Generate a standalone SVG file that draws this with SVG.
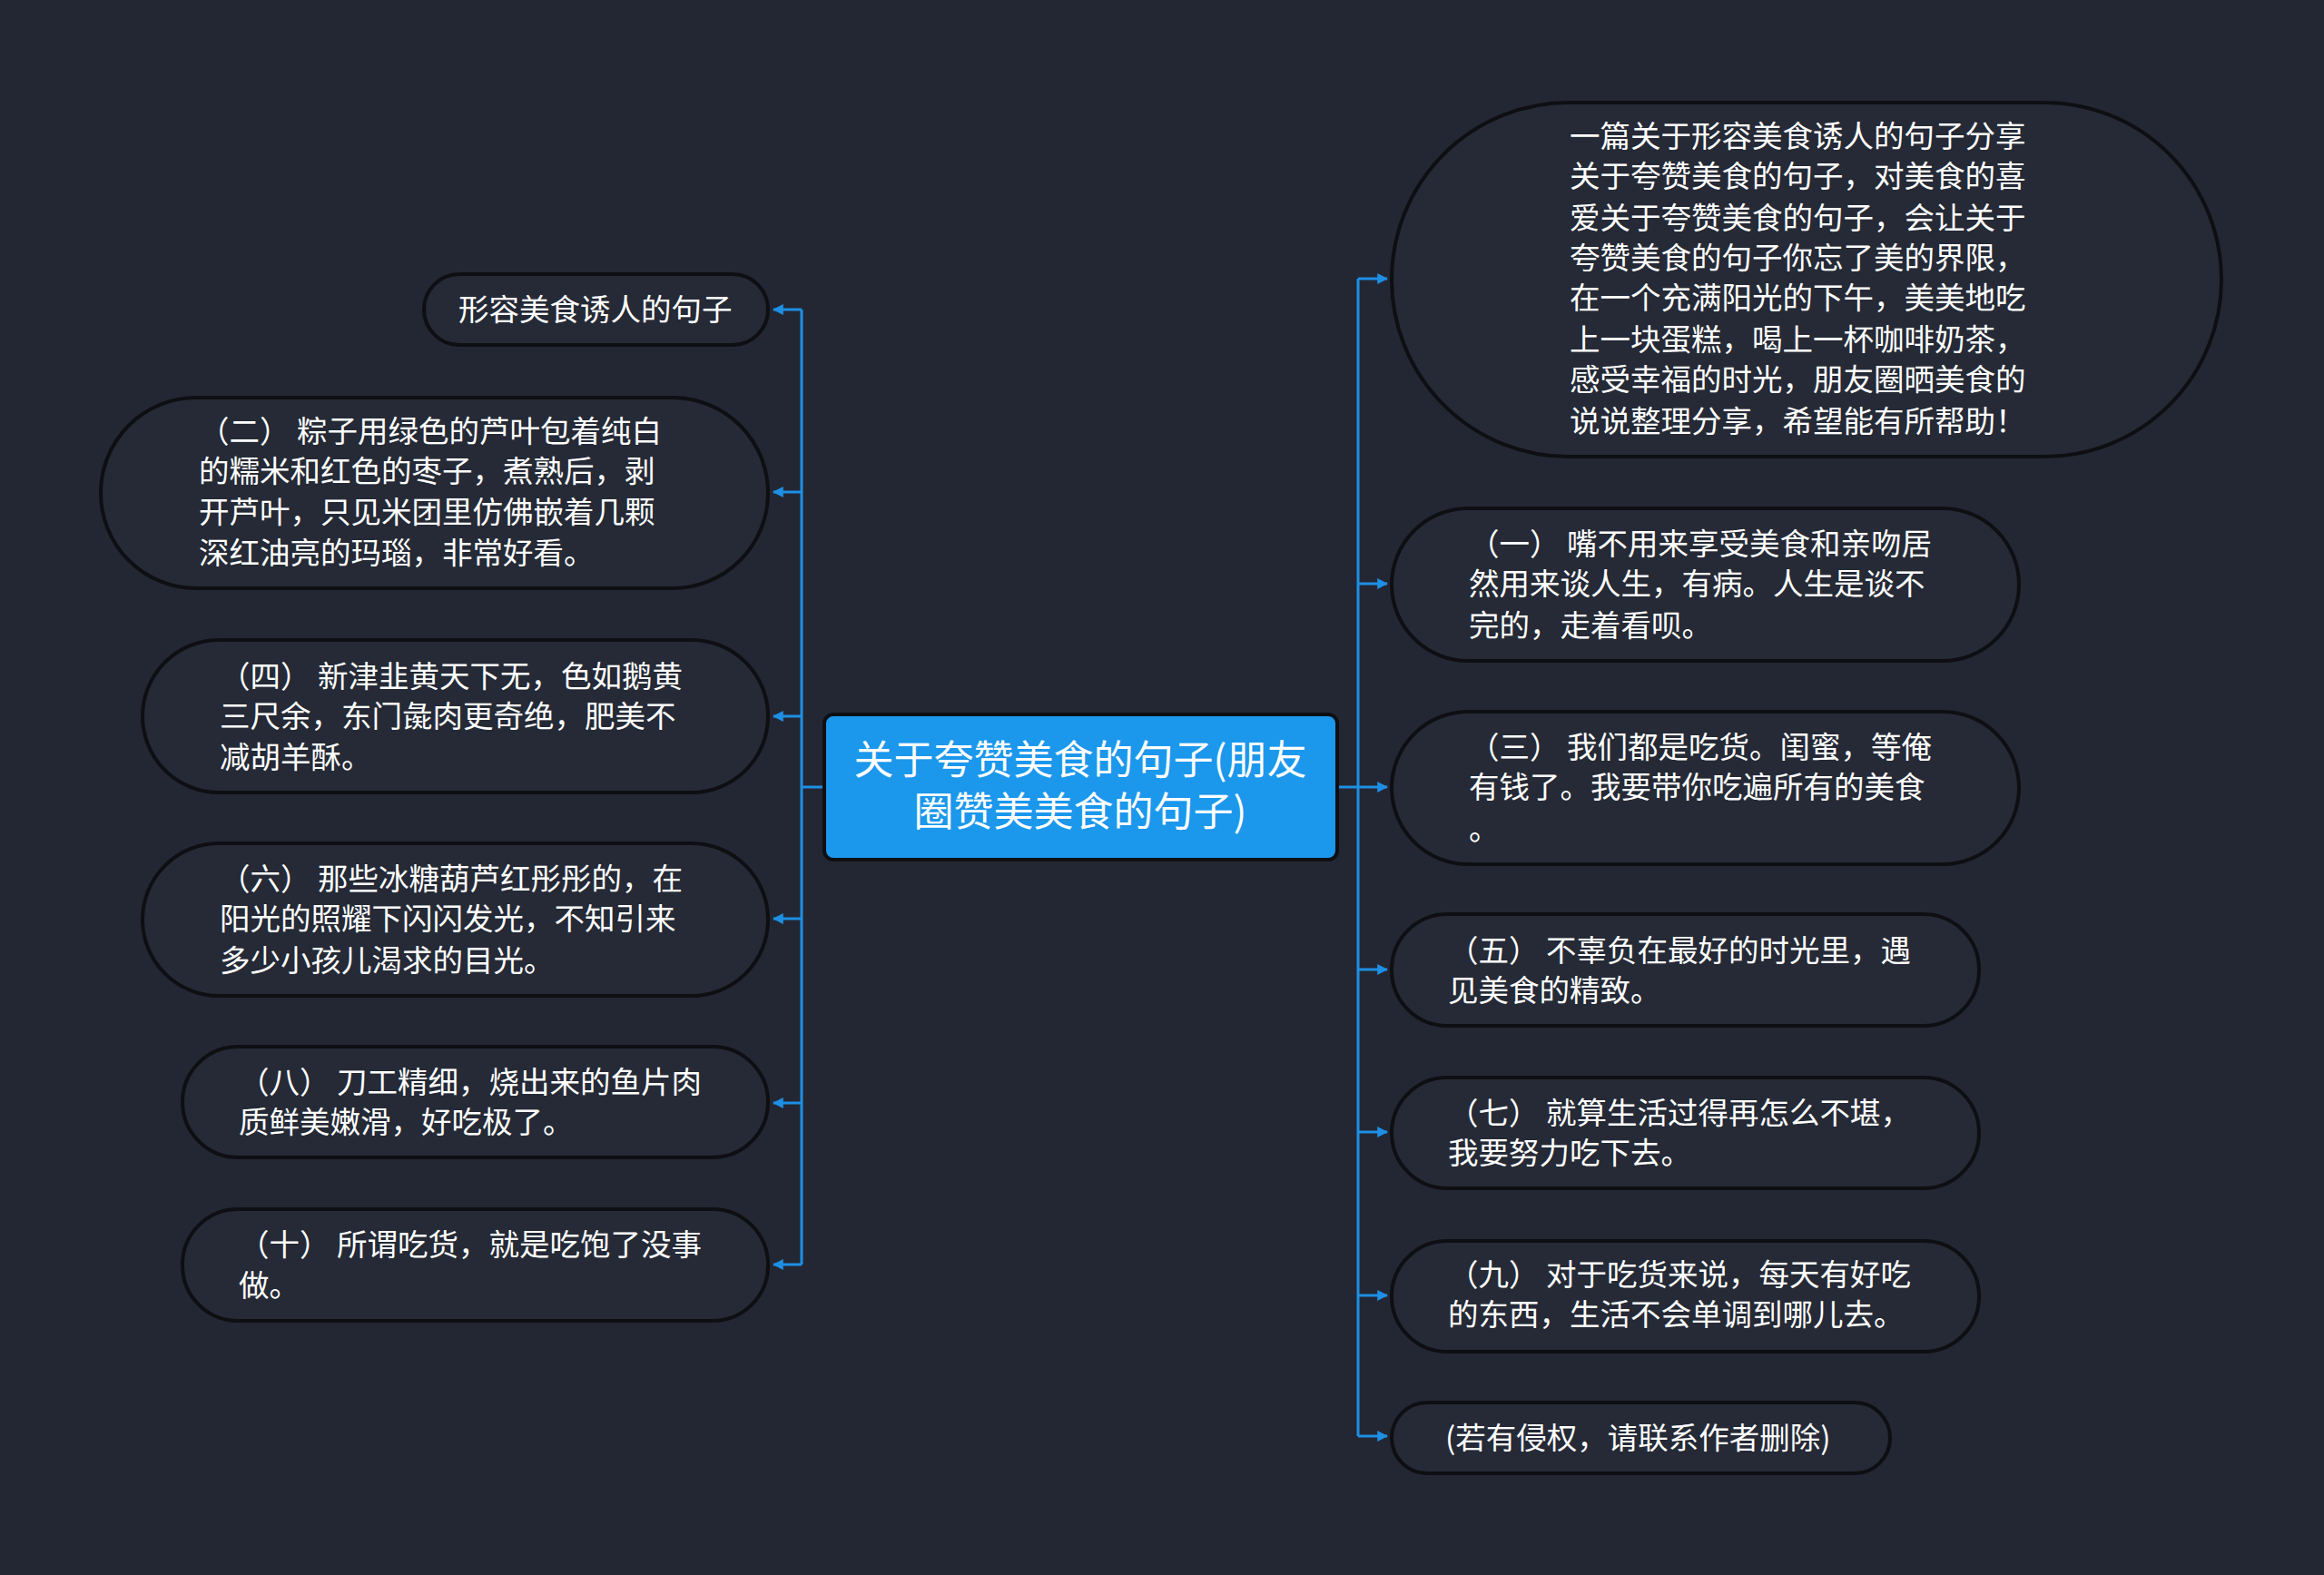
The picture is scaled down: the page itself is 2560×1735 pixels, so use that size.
<svg xmlns="http://www.w3.org/2000/svg" width="2560" height="1735" viewBox="0 0 2560 1735">
<defs>
<style>
.bg{fill:#232733}
.node{fill:#252a36;stroke:#0e0f13;stroke-width:4}
.root{fill:#1b97ec;stroke:#0e0f13;stroke-width:4}
.t{font-family:"Noto Sans CJK SC","Noto Sans",sans-serif;font-size:33.5px;fill:#ffffff}
.rt{font-family:"Noto Sans CJK SC","Noto Sans",sans-serif;font-size:44px;fill:#ffffff;text-anchor:middle}
.ln{fill:none;stroke:#1e8fe4;stroke-width:3}
</style>
<marker id="ah" viewBox="0 0 10 10" refX="9" refY="5" markerWidth="4" markerHeight="4" orient="auto" markerUnits="strokeWidth">
<path d="M0,0 L10,5 L0,10 z" fill="#1e8fe4"/>
</marker>
</defs>
<rect class="bg" x="0" y="0" width="2560" height="1735"/>

<g id="connectors">
<path class="ln" d="M908,867 H883"/>
<path class="ln" d="M883,341 V1393"/>
<path class="ln" d="M883,341 H852" marker-end="url(#ah)"/>
<path class="ln" d="M883,542 H852" marker-end="url(#ah)"/>
<path class="ln" d="M883,789 H852" marker-end="url(#ah)"/>
<path class="ln" d="M883,1012 H852" marker-end="url(#ah)"/>
<path class="ln" d="M883,1215 H852" marker-end="url(#ah)"/>
<path class="ln" d="M883,1393 H852" marker-end="url(#ah)"/>
<path class="ln" d="M1473,867 H1496"/>
<path class="ln" d="M1496,307 V1582"/>
<path class="ln" d="M1496,307 H1528" marker-end="url(#ah)"/>
<path class="ln" d="M1496,643 H1528" marker-end="url(#ah)"/>
<path class="ln" d="M1496,867 H1528" marker-end="url(#ah)"/>
<path class="ln" d="M1496,1068 H1528" marker-end="url(#ah)"/>
<path class="ln" d="M1496,1247 H1528" marker-end="url(#ah)"/>
<path class="ln" d="M1496,1427 H1528" marker-end="url(#ah)"/>
<path class="ln" d="M1496,1582 H1528" marker-end="url(#ah)"/>
</g>

<g id="root">
<rect class="root" x="908" y="787" width="565" height="160" rx="10"/>
<text class="rt"><tspan x="1190" y="853">关于夸赞美食的句子(朋友</tspan><tspan x="1190" y="910">圈赞美美食的句子)</tspan></text>
</g>

<g id="L1">
<rect class="node" x="467" y="302" width="379" height="78" rx="39"/>
<text class="t" x="505" y="353">形容美食诱人的句子</text>
</g>

<g id="L2">
<rect class="node" x="111" y="438" width="735" height="210" rx="105"/>
<text class="t" x="219" y="487">（二） 粽子用绿色的芦叶包着纯白</text>
<text class="t" x="219" y="531">的糯米和红色的枣子，煮熟后，剥</text>
<text class="t" x="219" y="576">开芦叶，只见米团里仿佛嵌着几颗</text>
<text class="t" x="219" y="621">深红油亮的玛瑙，非常好看。</text>
</g>

<g id="L3">
<rect class="node" x="157" y="705" width="689" height="168" rx="84"/>
<text class="t" x="242" y="757">（四） 新津韭黄天下无，色如鹅黄</text>
<text class="t" x="242" y="801">三尺余，东门彘肉更奇绝，肥美不</text>
<text class="t" x="242" y="846">减胡羊酥。</text>
</g>

<g id="L4">
<rect class="node" x="157" y="929" width="689" height="168" rx="84"/>
<text class="t" x="242" y="980">（六） 那些冰糖葫芦红彤彤的，在</text>
<text class="t" x="242" y="1024">阳光的照耀下闪闪发光，不知引来</text>
<text class="t" x="242" y="1070">多少小孩儿渴求的目光。</text>
</g>

<g id="L5">
<rect class="node" x="201" y="1153" width="645" height="122" rx="61"/>
<text class="t" x="263" y="1204">（八） 刀工精细，烧出来的鱼片肉</text>
<text class="t" x="263" y="1248">质鲜美嫩滑，好吃极了。</text>
</g>

<g id="L6">
<rect class="node" x="201" y="1332" width="645" height="123" rx="61"/>
<text class="t" x="263" y="1383">（十） 所谓吃货，就是吃饱了没事</text>
<text class="t" x="263" y="1428">做。</text>
</g>

<g id="R1">
<rect class="node" x="1533" y="113" width="914" height="390" rx="195"/>
<text class="t" x="1729" y="162">一篇关于形容美食诱人的句子分享</text>
<text class="t" x="1729" y="206">关于夸赞美食的句子，对美食的喜</text>
<text class="t" x="1729" y="252">爱关于夸赞美食的句子，会让关于</text>
<text class="t" x="1729" y="296">夸赞美食的句子你忘了美的界限，</text>
<text class="t" x="1729" y="340">在一个充满阳光的下午，美美地吃</text>
<text class="t" x="1729" y="386">上一块蛋糕，喝上一杯咖啡奶茶，</text>
<text class="t" x="1729" y="430">感受幸福的时光，朋友圈晒美食的</text>
<text class="t" x="1729" y="476">说说整理分享，希望能有所帮助！</text>
</g>

<g id="R2">
<rect class="node" x="1533" y="560" width="691" height="168" rx="84"/>
<text class="t" x="1618" y="611">（一） 嘴不用来享受美食和亲吻居</text>
<text class="t" x="1618" y="655">然用来谈人生，有病。人生是谈不</text>
<text class="t" x="1618" y="701">完的，走着看呗。</text>
</g>

<g id="R3">
<rect class="node" x="1533" y="784" width="691" height="168" rx="84"/>
<text class="t" x="1618" y="835">（三） 我们都是吃货。闺蜜，等俺</text>
<text class="t" x="1618" y="879">有钱了。我要带你吃遍所有的美食</text>
<text class="t" x="1618" y="925">。</text>
</g>

<g id="R4">
<rect class="node" x="1533" y="1007" width="647" height="123" rx="61"/>
<text class="t" x="1595" y="1059">（五） 不辜负在最好的时光里，遇</text>
<text class="t" x="1595" y="1103">见美食的精致。</text>
</g>

<g id="R5">
<rect class="node" x="1533" y="1187" width="647" height="122" rx="61"/>
<text class="t" x="1595" y="1238">（七） 就算生活过得再怎么不堪，</text>
<text class="t" x="1595" y="1282">我要努力吃下去。</text>
</g>

<g id="R6">
<rect class="node" x="1533" y="1367" width="647" height="122" rx="61"/>
<text class="t" x="1595" y="1416">（九） 对于吃货来说，每天有好吃</text>
<text class="t" x="1595" y="1460">的东西，生活不会单调到哪儿去。</text>
</g>

<g id="R7">
<rect class="node" x="1533" y="1545" width="549" height="78" rx="39"/>
<text class="t" x="1592" y="1596">(若有侵权，请联系作者删除)</text>
</g>
</svg>
